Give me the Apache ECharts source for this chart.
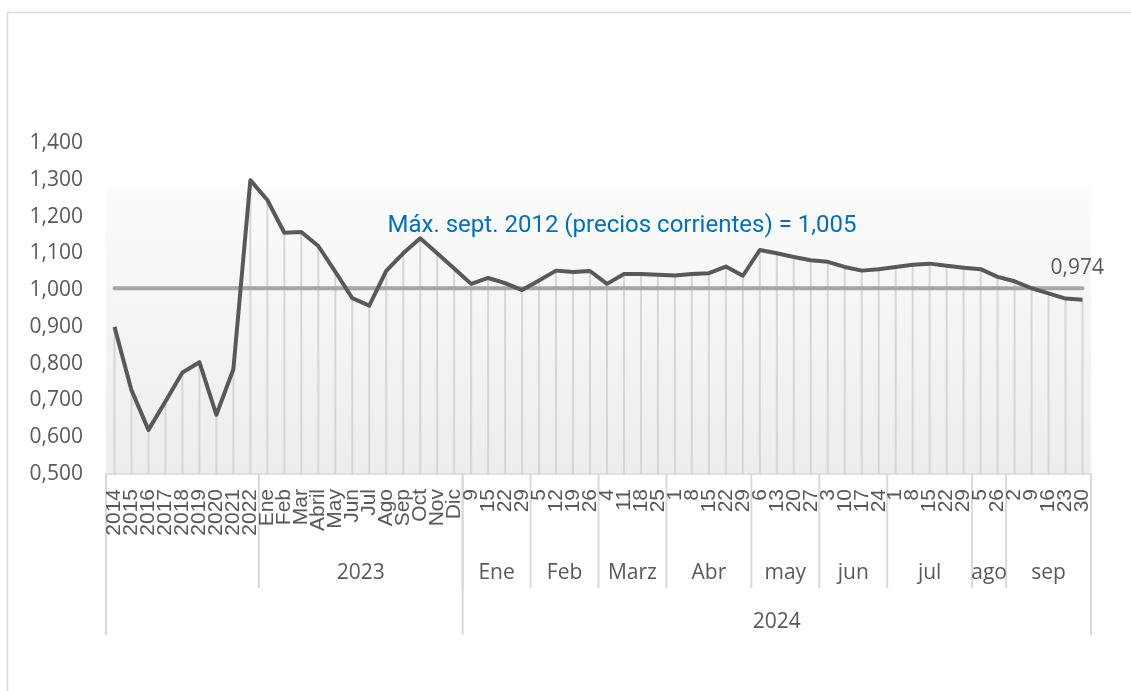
<!DOCTYPE html>
<html>
<head>
<meta charset="utf-8">
<script src="https://cdn.jsdelivr.net/npm/echarts@6/dist/echarts.min.js"></script>
<style>
  html, body { margin: 0; padding: 0; background: #fff; }
  #chart { width: 1131px; height: 691px; }
</style>
</head>
<body>
<div id="chart"></div>
<script>
// categorias del eje x (años, meses 2023, semanas 2024)
var categorias = [
  "2014", "2015", "2016", "2017", "2018", "2019", "2020", "2021", "2022",
  "Ene", "Feb", "Mar", "Abril", "May", "Jun", "Jul", "Ago", "Sep", "Oct", "Nov", "Dic",
  "9", "15", "22", "29",
  "5", "12", "19", "26",
  "4", "11", "18", "25",
  "1", "8", "15", "22", "29",
  "6", "13", "20", "27",
  "3", "10", "17", "24",
  "1", "8", "15", "22", "29",
  "5", "26",
  "2", "9", "16", "23", "30"
];
var valores = [
  0.900, 0.728, 0.620, 0.697, 0.776, 0.804, 0.661, 0.785, 1.299,
  1.245, 1.156, 1.158, 1.120, 1.050, 0.978, 0.958, 1.052, 1.100, 1.141, 1.100, 1.059,
  1.017, 1.033, 1.019, 1.000,
  1.026, 1.053, 1.049, 1.052,
  1.017, 1.044, 1.044, 1.042,
  1.040, 1.044, 1.046, 1.064, 1.039,
  1.109, 1.100, 1.090, 1.081,
  1.077, 1.063, 1.053, 1.057,
  1.063, 1.069, 1.072, 1.066, 1.061,
  1.057, 1.036,
  1.024, 1.005, 0.991, 0.977, 0.974
];
var maxSept2012 = 1.005;
var textoMax = "Máx. sept. 2012 (precios corrientes) = 1,005";

// segundo y tercer nivel del eje x
var grupoMes = ["", "2023", "Ene", "Feb", "Marz", "Abr", "may", "jun", "jul", "ago", "sep"];
var grupoMesN = [9, 12, 4, 4, 4, 5, 4, 4, 5, 2, 5];
var grupoAnio = ["", "2024"];
var grupoAnioN = [21, 37];

var yMin = 0.5, yMax = 1.4, yPaso = 0.1;

function fmt(v) {
  return v.toFixed(3).replace(".", ",");
}

var myChart = echarts.init(document.getElementById("chart"));

var option = {
  animation: false,
  grid: {
    left: 106,
    right: 40,
    top: 143,
    bottom: 217,
    show: true,
    borderWidth: 0,
    backgroundColor: new echarts.graphic.LinearGradient(0, 0, 0, 1, [
      { offset: 0, color: "#ffffff" },
      { offset: 0.13, color: "#ffffff" },
      { offset: 0.14, color: "#fbfbfb" },
      { offset: 1, color: "#ededed" }
    ])
  },
  xAxis: {
    type: "category",
    data: categorias,
    boundaryGap: true,
    axisLine: { lineStyle: { color: "#d9d9d9", width: 1.5 } },
    axisTick: { show: false },
    axisLabel: {
      interval: 0,
      rotate: 90,
      margin: 15,
      color: "#595959",
      fontFamily: "Liberation Sans",
      fontSize: 21,
      hideOverlap: false
    }
  },
  yAxis: {
    type: "value",
    min: yMin,
    max: yMax,
    interval: yPaso,
    splitLine: { show: false },
    axisLine: { show: false },
    axisTick: { show: false },
    axisLabel: {
      margin: 23,
      color: "#595959",
      fontFamily: "Open Sans",
      fontSize: 21,
      formatter: fmt
    }
  },
  series: [
    {
      // lineas verticales de cada punto
      type: "bar",
      data: valores,
      barWidth: 2,
      silent: true,
      z: 1,
      itemStyle: { color: "#d6d6d6" }
    },
    {
      type: "line",
      data: categorias.map(function () { return maxSept2012; }),
      showSymbol: false,
      silent: true,
      z: 2,
      lineStyle: { color: "#a6a6a6", width: 4, cap: "round" }
    },
    {
      type: "line",
      data: valores,
      showSymbol: false,
      z: 3,
      lineStyle: { color: "#595959", width: 4, join: "round" },
      endLabel: {
        show: true,
        offset: [-40, -32],
        color: "#595959",
        fontFamily: "Open Sans",
        fontSize: 21,
        formatter: function (p) { return fmt(p.value); }
      }
    }
  ]
};
myChart.setOption(option);

// niveles inferiores del eje x, a partir de la escala del eje
var x0 = myChart.convertToPixel({ xAxisIndex: 0 }, 0);
var band = myChart.convertToPixel({ xAxisIndex: 0 }, 1) - x0;
var yEje = myChart.convertToPixel({ yAxisIndex: 0 }, yMin);
function borde(k) { return x0 - band / 2 + k * band; }

var graficos = [
  {
    type: "rect",
    shape: { x: 7.5, y: 12.5, width: 1300, height: 900 },
    style: { fill: null, stroke: "#d9d9d9", lineWidth: 1.5 },
    silent: true
  },
  {
    type: "text",
    x: 622,
    y: 226,
    style: {
      text: textoMax,
      fill: "#0070c0",
      font: "24px 'Roboto'",
      align: "center",
      verticalAlign: "middle"
    }
  }
];

var k = 0;
grupoMes.forEach(function (nombre, i) {
  var ini = k, fin = k + grupoMesN[i];
  graficos.push({
    type: "line",
    shape: { x1: borde(fin), y1: yEje, x2: borde(fin), y2: yEje + 114 },
    style: { stroke: "#d9d9d9", lineWidth: 2 }
  });
  if (nombre) {
    graficos.push({
      type: "text",
      x: (borde(ini) + borde(fin)) / 2,
      y: yEje + 99,
      style: {
        text: nombre, fill: "#595959", font: "21px 'Open Sans'",
        align: "center", verticalAlign: "middle"
      }
    });
  }
  k = fin;
});

k = 0;
graficos.push({
  type: "line",
  shape: { x1: borde(0), y1: yEje, x2: borde(0), y2: yEje + 161 },
  style: { stroke: "#d9d9d9", lineWidth: 2 }
});
grupoAnio.forEach(function (nombre, i) {
  var ini = k, fin = k + grupoAnioN[i];
  graficos.push({
    type: "line",
    shape: { x1: borde(fin), y1: yEje, x2: borde(fin), y2: yEje + 161 },
    style: { stroke: "#d9d9d9", lineWidth: 2 }
  });
  if (nombre) {
    graficos.push({
      type: "text",
      x: (borde(ini) + borde(fin)) / 2,
      y: yEje + 148,
      style: {
        text: nombre, fill: "#595959", font: "21px 'Open Sans'",
        align: "center", verticalAlign: "middle"
      }
    });
  }
  k = fin;
});

myChart.setOption({ graphic: graficos });
</script>
</body>
</html>
